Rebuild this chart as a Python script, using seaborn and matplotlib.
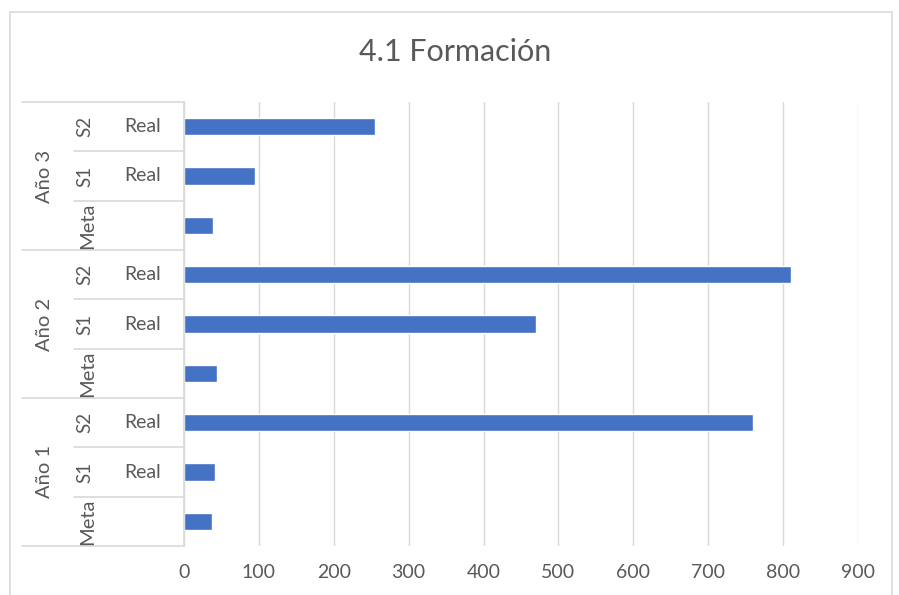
import matplotlib
matplotlib.use("Agg")
import matplotlib.pyplot as plt
import matplotlib.transforms as mtransforms
from matplotlib.patches import Rectangle
import pandas as pd
import seaborn as sns

# --- datos ---------------------------------------------------------------
years = ["Año 1", "Año 2", "Año 3"]
periods = ["Meta", "S1", "S2"]
series = ["", "Real", "Real"]
meta_vals = [38, 44, 39]
s1_vals = [42, 470, 95]
s2_vals = [760, 810, 255]
xticks = [0, 100, 200, 300, 400, 500, 600, 700, 800, 900]

BAR = "#4472C4"
TXT = "#595959"
LINE = "#D9D9D9"

rows = []
for i, yr in enumerate(years):
    for per, ser, vals in zip(periods, series, [meta_vals, s1_vals, s2_vals]):
        rows.append({"year": yr, "period": per, "series": ser,
                     "row": f"{yr}|{per}", "value": vals[i]})
df = pd.DataFrame(rows).iloc[::-1].reset_index(drop=True)  # top row first

sns.set_theme(style="white")
plt.rcParams["font.family"] = ["Lato", "DejaVu Sans"]

fig = plt.figure(figsize=(8.99, 5.95), dpi=100)
ax = fig.add_axes([184 / 899, 1 - 546 / 595, 674 / 899, 444 / 595])

sns.barplot(data=df, x="value", y="row", orient="h", color=BAR,
            width=0.35, saturation=1, ax=ax)

ax.set_xlim(0, 900)
ax.set_ylim(len(df) - 0.5, -0.5)
ax.set_xticks(xticks)
ax.set_xticklabels([str(t) for t in xticks], color=TXT, fontsize=14)
ax.tick_params(axis="x", length=0, pad=13)
ax.set_yticks([])
ax.set_xlabel("")
ax.set_ylabel("")
ax.grid(axis="x", color=LINE, linewidth=1)
ax.set_axisbelow(True)
for side in ["top", "right", "bottom"]:
    ax.spines[side].set_visible(False)
ax.spines["left"].set_color(LINE)

# tabla de categorías multinivel
tr = mtransforms.blended_transform_factory(ax.transAxes, ax.transData)
x_left = (22 - 184) / 674
x_inner = (74 - 184) / 674
n = len(df)
for k in range(n + 1):
    yb = k - 0.5
    x0 = x_left if k % 3 == 0 else x_inner
    ax.plot([x0, 0], [yb, yb], transform=tr, color=LINE, lw=1.2,
            clip_on=False)

for k, r in df.iterrows():
    if r["period"] == "Meta":
        ax.text((88 - 184) / 674, k, "Meta", transform=tr, rotation=90,
                ha="center", va="center", fontsize=14.5, color=TXT)
    else:
        ax.text((85 - 184) / 674, k, r["period"], transform=tr, rotation=90,
                ha="center", va="center", fontsize=13.5, color=TXT)
        ax.text((143 - 184) / 674, k, r["series"], transform=tr,
                ha="center", va="center", fontsize=14, color=TXT)

for yr in years:
    idx = df.index[df["year"] == yr]
    ax.text((45 - 184) / 674, idx.to_numpy().mean(), yr, transform=tr,
            rotation=90, ha="center", va="center", fontsize=14.5, color=TXT)

fig.text(455 / 899, 1 - 52 / 595, "4.1 Formación", ha="center", va="center",
         fontsize=22, color=TXT)

fig.patches.append(Rectangle((10 / 899, -0.05), 882 / 899, 1.05 - 12 / 595,
                             transform=fig.transFigure, fill=False,
                             edgecolor=LINE, lw=1.2))

fig.savefig("out.png", dpi=100)
